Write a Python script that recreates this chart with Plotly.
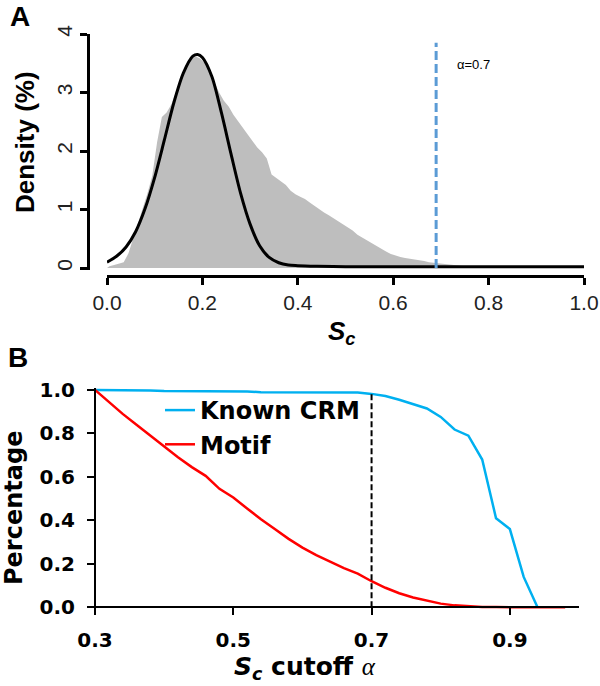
import plotly.graph_objects as go

W, H = 600, 686

# ---- Panel A: S_c histogram (density %, bins of 0.01) and fitted curve ----
HIST_BIN = 0.01
hist_density = [
    0.03, 0.05, 0.08, 0.10, 0.25, 0.50, 0.75, 1.00, 1.28, 1.58,
    2.15, 2.58, 2.66, 2.80, 3.02, 3.24, 3.42, 3.56, 3.62, 3.58,
    3.50, 3.38, 3.18, 3.00, 2.86, 2.76, 2.62, 2.50, 2.40, 2.28,
    2.17, 2.06, 1.98, 1.87, 1.60, 1.54, 1.48, 1.42, 1.32, 1.26,
    1.22, 1.18, 1.12, 1.06, 1.00, 0.95, 0.90, 0.85, 0.80, 0.75,
    0.70, 0.64, 0.57, 0.52, 0.48, 0.43, 0.38, 0.33, 0.28, 0.24,
    0.21, 0.19, 0.17, 0.16, 0.15, 0.14, 0.12, 0.10, 0.09, 0.08,
    0.07, 0.06, 0.05, 0.04, 0.03, 0.02, 0.02, 0.01, 0.01, 0.01,
]
hist_x = [0.0] + [round((i + 0.5) * HIST_BIN, 3) for i in range(len(hist_density))] + [0.80]
hist_y = [0.0] + hist_density + [0.0]

curve_x = [0.00, 0.02, 0.04, 0.06, 0.08, 0.10, 0.12, 0.14, 0.16, 0.18, 0.19,
           0.20, 0.22, 0.24, 0.26, 0.28, 0.30, 0.32, 0.34, 0.36, 0.38, 0.40,
           0.44, 0.50, 0.60, 0.80, 1.00]
curve_y = [0.10, 0.20, 0.36, 0.62, 1.02, 1.55, 2.18, 2.82, 3.33, 3.62, 3.65,
           3.60, 3.27, 2.65, 1.95, 1.28, 0.75, 0.38, 0.18, 0.09, 0.05, 0.04,
           0.03, 0.02, 0.02, 0.02, 0.02]

ALPHA_A = 0.69
ALPHA_TOP = 3.85

# ---- Panel B: fraction retained vs S_c cutoff ----
cutoff = [0.30, 0.32, 0.34, 0.36, 0.38, 0.40, 0.42, 0.44, 0.46, 0.48,
          0.50, 0.52, 0.54, 0.56, 0.58, 0.60, 0.62, 0.64, 0.66, 0.68,
          0.70, 0.72, 0.74, 0.76, 0.78, 0.80, 0.82, 0.84, 0.86, 0.88,
          0.90, 0.92, 0.94, 0.96, 0.98]
known_crm = [1.000, 1.000, 1.000, 1.000, 0.998, 0.995, 0.995, 0.995, 0.995, 0.995,
             0.995, 0.993, 0.990, 0.990, 0.990, 0.990, 0.990, 0.990, 0.990, 0.988,
             0.982, 0.972, 0.955, 0.935, 0.915, 0.876, 0.818, 0.790, 0.680, 0.410,
             0.360, 0.140, 0.000, None, None]
motif = [1.000, 0.944, 0.890, 0.840, 0.790, 0.740, 0.690, 0.645, 0.605, 0.545,
         0.505, 0.455, 0.405, 0.360, 0.315, 0.275, 0.240, 0.210, 0.180, 0.155,
         0.120, 0.090, 0.065, 0.045, 0.030, 0.017, 0.009, 0.005, 0.002, 0.001,
         0.000, 0.000, 0.000, 0.000, 0.000]
ALPHA_B = 0.7
ALPHA_B_TOP = 0.985


def px(x):
    return x / W


def py(y):
    return 1 - y / H


SANS = "Liberation Sans"
BOLD = "DejaVu Sans"

fig = go.Figure()

fig.add_trace(go.Scatter(
    x=hist_x, y=hist_y, mode="lines",
    line=dict(width=0, color="#bebebe"), fill="tozeroy", fillcolor="#bebebe",
    showlegend=False, xaxis="x", yaxis="y",
))
fig.add_trace(go.Scatter(
    x=curve_x, y=curve_y, mode="lines", line_shape="spline",
    line=dict(width=3, color="black", smoothing=0.8),
    showlegend=False, xaxis="x", yaxis="y",
))
fig.add_trace(go.Scatter(
    x=[ALPHA_A, ALPHA_A], y=[0, ALPHA_TOP], mode="lines",
    line=dict(width=3, color="#5b9bd5", dash="9px,4px"),
    showlegend=False, xaxis="x", yaxis="y",
))

fig.add_trace(go.Scatter(
    x=cutoff, y=known_crm, mode="lines", name="Known CRM",
    line=dict(width=2.5, color="#00b0f0"), xaxis="x2", yaxis="y2",
))
fig.add_trace(go.Scatter(
    x=cutoff, y=motif, mode="lines", name="Motif",
    line=dict(width=2.5, color="#ff0000"), xaxis="x2", yaxis="y2",
))
fig.add_trace(go.Scatter(
    x=[ALPHA_B, ALPHA_B], y=[0, ALPHA_B_TOP], mode="lines",
    line=dict(width=2, color="black", dash="6px,3px"),
    showlegend=False, xaxis="x2", yaxis="y2",
))

axis_a = dict(showgrid=False, zeroline=False, showline=True, linecolor="black",
              linewidth=3, ticks="outside", ticklen=7, tickwidth=3,
              tickcolor="black", automargin=False,
              tickfont=dict(family=SANS, size=21, color="#222"))
axis_b = dict(showgrid=False, zeroline=False, showline=True, linecolor="black",
              linewidth=2, ticks="outside", ticklen=7, tickwidth=2,
              tickcolor="black", automargin=False,
              tickfont=dict(family=BOLD, size=20, color="black", weight="bold"))

fig.update_layout(
    width=W, height=H,
    margin=dict(l=0, r=0, t=0, b=0),
    paper_bgcolor="white", plot_bgcolor="rgba(0,0,0,0)",
    xaxis=dict(axis_a, domain=[px(107), px(584)], range=[0, 1],
               anchor="free", position=py(276),
               tickvals=[0, 0.2, 0.4, 0.6, 0.8, 1.0], tickformat=".1f"),
    yaxis=dict(axis_a, domain=[py(268 + 0.03 * 58.5), py(34)], range=[-0.03, 4],
               anchor="free", position=px(88),
               tickvals=[0, 1, 2, 3, 4], tickangle=-90),
    xaxis2=dict(axis_b, domain=[px(95), px(579)], range=[0.3, 1.0],
                anchor="free", position=py(607.3),
                tickvals=[0.3, 0.5, 0.7, 0.9], tickformat=".1f",
                ticklabelstandoff=8),
    yaxis2=dict(axis_b, domain=[py(609.5), py(387.8)], range=[-0.01, 1.01],
                anchor="free", position=px(95),
                tickvals=[0, 0.2, 0.4, 0.6, 0.8, 1.0], tickformat=".1f",
                ticklabelstandoff=8),
    legend=dict(x=px(160), y=py(388), xanchor="left", yanchor="top",
                bgcolor="rgba(0,0,0,0)",
                font=dict(family=BOLD, size=24, color="black", weight="bold")),
)

annotations = [
    dict(text="<b>A</b>", x=px(20), y=py(16), font=dict(family=SANS, size=28)),
    dict(text="<b>B</b>", x=px(18), y=py(357), font=dict(family=SANS, size=28)),
    dict(text="<b>Density (%)</b>", x=px(25), y=py(142), textangle=-90,
         font=dict(family=SANS, size=26)),
    dict(text="<b><i>S</i></b><sub><b><i>c</i></b></sub>", x=px(341), y=py(332),
         font=dict(family=SANS, size=26)),
    dict(text="α=0.7", x=px(473), y=py(64), font=dict(family=SANS, size=13)),
    dict(text="<b>Percentage</b>", x=px(14), y=py(508), textangle=-90,
         font=dict(family=BOLD, size=24)),
    dict(text="<b><i>S</i></b><sub><b><i>c</i></b></sub><b> cutoff </b>"
              "<span style=\"font-family:'Liberation Serif'\"><i>α</i></span>",
         x=px(305), y=py(668), font=dict(family=BOLD, size=25)),
]
for a in annotations:
    a.update(xref="paper", yref="paper", showarrow=False,
             xanchor="center", yanchor="middle")
    a["font"].setdefault("color", "black")
fig.update_layout(annotations=annotations)

# page body has a default 8px margin; remove it so the figure sits at (0, 0)
fig.write_html("out.html", config={"displayModeBar": False},
               post_script="document.body.style.margin = '0';")
